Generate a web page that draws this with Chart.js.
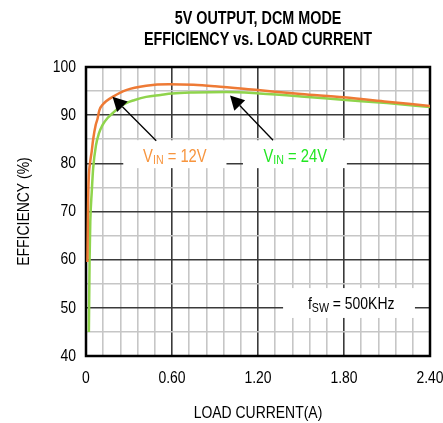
<!DOCTYPE html>
<html>
<head>
<meta charset="utf-8">
<script src="https://cdn.jsdelivr.net/npm/chart.js@4/dist/chart.umd.min.js"></script>
<style>
  html, body { margin: 0; padding: 0; background: #fff; }
  #wrap { width: 443px; height: 423px; }
</style>
</head>
<body>
<div id="wrap"><canvas id="eff" width="443" height="423"></canvas></div>
<script>
// load current (A) and efficiency (%) for the two input voltages
var current12 = [0.010, 0.013, 0.016, 0.020, 0.030, 0.040, 0.050, 0.068, 0.081, 0.093, 0.120, 0.140, 0.186, 0.280, 0.420, 0.580, 0.750, 0.900, 1.200, 1.500, 1.800, 2.100, 2.400];
var eff12     = [59.5, 68.0, 74.0, 77.5, 80.5, 82.5, 85.0, 88.0, 89.3, 91.0, 92.3, 92.9, 93.8, 95.2, 96.1, 96.4, 96.3, 96.0, 95.2, 94.4, 93.7, 92.8, 91.9];

var current24 = [0.020, 0.025, 0.030, 0.040, 0.050, 0.070, 0.090, 0.116, 0.150, 0.186, 0.230, 0.280, 0.335, 0.420, 0.520, 0.600, 0.750, 0.980, 1.210, 1.500, 1.790, 2.100, 2.400];
var eff24     = [45.0, 60.0, 68.0, 74.0, 79.0, 83.8, 86.2, 88.0, 89.4, 90.4, 91.6, 92.5, 93.1, 93.8, 94.2, 94.5, 94.7, 94.8, 94.5, 93.9, 93.2, 92.5, 91.7];

var xTicks = [0, 0.6, 1.2, 1.8, 2.4];
var xTickLabels = ['0', '0.60', '1.20', '1.80', '2.40'];
var yTicks = [40, 50, 60, 70, 80, 90, 100];
var yTickLabels = ['40', '50', '60', '70', '80', '90', '100'];

// no condensed face is available, so text is squeezed horizontally
var FONT = "'Liberation Sans', Arial, sans-serif";
var SQUEEZE = 0.82;
var ORANGE = '#ee7a35';
var GREEN = '#8fd44c';

function points(xs, ys) {
  return xs.map(function(x, i) { return {x: x, y: ys[i]}; });
}

function narrow(c, text, x, y, font, align, rot) {
  c.save();
  c.font = font;
  c.translate(x, y);
  if (rot) c.rotate(rot);
  c.scale(SQUEEZE, 1);
  c.textAlign = align;
  c.textBaseline = 'middle';
  c.fillText(text, 0, 0);
  c.restore();
}

function arrow(c, x1, y1, x2, y2) {
  var ang = Math.atan2(y2 - y1, x2 - x1);
  var len = 14, half = 7.5;
  var bx = x2 - len * Math.cos(ang), by = y2 - len * Math.sin(ang);
  c.strokeStyle = '#000';
  c.fillStyle = '#000';
  c.lineWidth = 1.3;
  c.beginPath();
  c.moveTo(x1, y1);
  c.lineTo(bx, by);
  c.stroke();
  c.beginPath();
  c.moveTo(x2, y2);
  c.lineTo(bx + half * Math.sin(ang), by - half * Math.cos(ang));
  c.lineTo(bx - half * Math.sin(ang), by + half * Math.cos(ang));
  c.closePath();
  c.fill();
}

// "V" + subscript "IN" + rest, centred on cx
function subLabel(c, main, sub, rest, cx, cy, color, size) {
  var big = size + 'px ' + FONT, small = Math.round(size * 0.74) + 'px ' + FONT;
  c.font = big;
  var w1 = c.measureText(main).width * SQUEEZE, w3 = c.measureText(rest).width * SQUEEZE;
  c.font = small;
  var w2 = c.measureText(sub).width * SQUEEZE;
  var x = cx - (w1 + w2 + w3) / 2;
  c.fillStyle = color;
  narrow(c, main, x, cy, big, 'left');
  narrow(c, sub, x + w1, cy + 4, small, 'left');
  narrow(c, rest, x + w1 + w2, cy, big, 'left');
}

var notes = {
  id: 'notes',
  beforeDatasetsDraw: function(chart) {
    var c = chart.ctx, sx = chart.scales.x, sy = chart.scales.y, a = chart.chartArea;
    c.save();
    c.fillStyle = '#fff';
    [[0.26, 0.98, 84.8, 79.0], [1.095, 1.82, 84.8, 79.0], [1.375, 2.295, 54.1, 47.9]].forEach(function(b) {
      var x1 = sx.getPixelForValue(b[0]), x2 = sx.getPixelForValue(b[1]);
      var y1 = sy.getPixelForValue(b[2]), y2 = sy.getPixelForValue(b[3]);
      c.fillRect(x1, y1, x2 - x1, y2 - y1);
    });
    c.strokeStyle = '#000';
    c.lineWidth = 2.5;
    c.strokeRect(a.left, a.top, a.right - a.left, a.bottom - a.top);
    c.restore();
  },
  afterDatasetsDraw: function(chart) {
    var c = chart.ctx, sx = chart.scales.x, sy = chart.scales.y;
    c.save();
    arrow(c, sx.getPixelForValue(0.49), sy.getPixelForValue(84.7), sx.getPixelForValue(0.185), sy.getPixelForValue(93.8));
    arrow(c, sx.getPixelForValue(1.305), sy.getPixelForValue(84.8), sx.getPixelForValue(1.005), sy.getPixelForValue(94.1));
    subLabel(c, 'V', 'IN', ' = 12V', sx.getPixelForValue(0.62), sy.getPixelForValue(81.4), '#f7953e', 18);
    subLabel(c, 'V', 'IN', ' = 24V', sx.getPixelForValue(1.46), sy.getPixelForValue(81.4), '#22e622', 18);
    subLabel(c, 'f', 'SW', ' = 500KHz', sx.getPixelForValue(1.85), sy.getPixelForValue(50.7), '#000', 17);
    c.restore();
  },
  afterDraw: function(chart) {
    var c = chart.ctx, a = chart.chartArea, sx = chart.scales.x, sy = chart.scales.y;
    var cx = (a.left + a.right) / 2, cy = (a.top + a.bottom) / 2;
    var tickFont = '17px ' + FONT;
    c.save();
    c.fillStyle = '#000';
    narrow(c, '5V OUTPUT, DCM MODE', cx, 19, 'bold 17.5px ' + FONT, 'center');
    narrow(c, 'EFFICIENCY vs. LOAD CURRENT', cx, 40, 'bold 17.5px ' + FONT, 'center');
    xTicks.forEach(function(v, i) {
      narrow(c, xTickLabels[i], sx.getPixelForValue(v), a.bottom + 22, tickFont, 'center');
    });
    yTicks.forEach(function(v, i) {
      narrow(c, yTickLabels[i], a.left - 10, sy.getPixelForValue(v), tickFont, 'right');
    });
    narrow(c, 'LOAD CURRENT(A)', cx, 413, tickFont, 'center');
    narrow(c, 'EFFICIENCY (%)', 24, cy, tickFont, 'center', -Math.PI / 2);
    c.restore();
  }
};

var ctx = document.getElementById('eff').getContext('2d');
new Chart(ctx, {
  type: 'line',
  data: {
    datasets: [
      {
        label: 'VIN = 12V',
        data: points(current12, eff12),
        borderColor: ORANGE,
        borderWidth: 2.5,
        pointRadius: 0,
        cubicInterpolationMode: 'monotone',
        fill: false
      },
      {
        label: 'VIN = 24V',
        data: points(current24, eff24),
        borderColor: GREEN,
        borderWidth: 2.5,
        pointRadius: 0,
        cubicInterpolationMode: 'monotone',
        fill: false
      }
    ]
  },
  options: {
    responsive: false,
    animation: false,
    layout: { padding: { top: 67, right: 13, left: 0, bottom: 0 } },
    plugins: {
      legend: { display: false },
      title: { display: false },
      tooltip: { enabled: false }
    },
    scales: {
      x: {
        type: 'linear',
        min: 0,
        max: 2.4,
        afterBuildTicks: function(scale) {
          var t = [];
          for (var i = 0; i <= 20; i++) t.push({value: i * 0.12});
          scale.ticks = t;
        },
        afterFit: function(scale) {
          scale.height = 67;
          scale.paddingLeft = 0;
          scale.paddingRight = 0;
        },
        ticks: { display: false },
        grid: {
          drawTicks: false,
          lineWidth: 1.6,
          color: function(c) { return c.index % 5 === 0 ? '#3a3a3a' : '#c6c6c6'; }
        },
        border: { display: false }
      },
      y: {
        type: 'linear',
        min: 40,
        max: 100,
        afterBuildTicks: function(scale) {
          var t = [];
          for (var v = 40; v <= 100; v += 5) t.push({value: v});
          scale.ticks = t;
        },
        afterFit: function(scale) { scale.width = 86; },
        ticks: { display: false },
        grid: {
          drawTicks: false,
          lineWidth: 1.6,
          color: function(c) { return c.index % 2 === 0 ? '#3a3a3a' : '#c6c6c6'; }
        },
        border: { display: false }
      }
    }
  },
  plugins: [notes]
});
</script>
</body>
</html>
